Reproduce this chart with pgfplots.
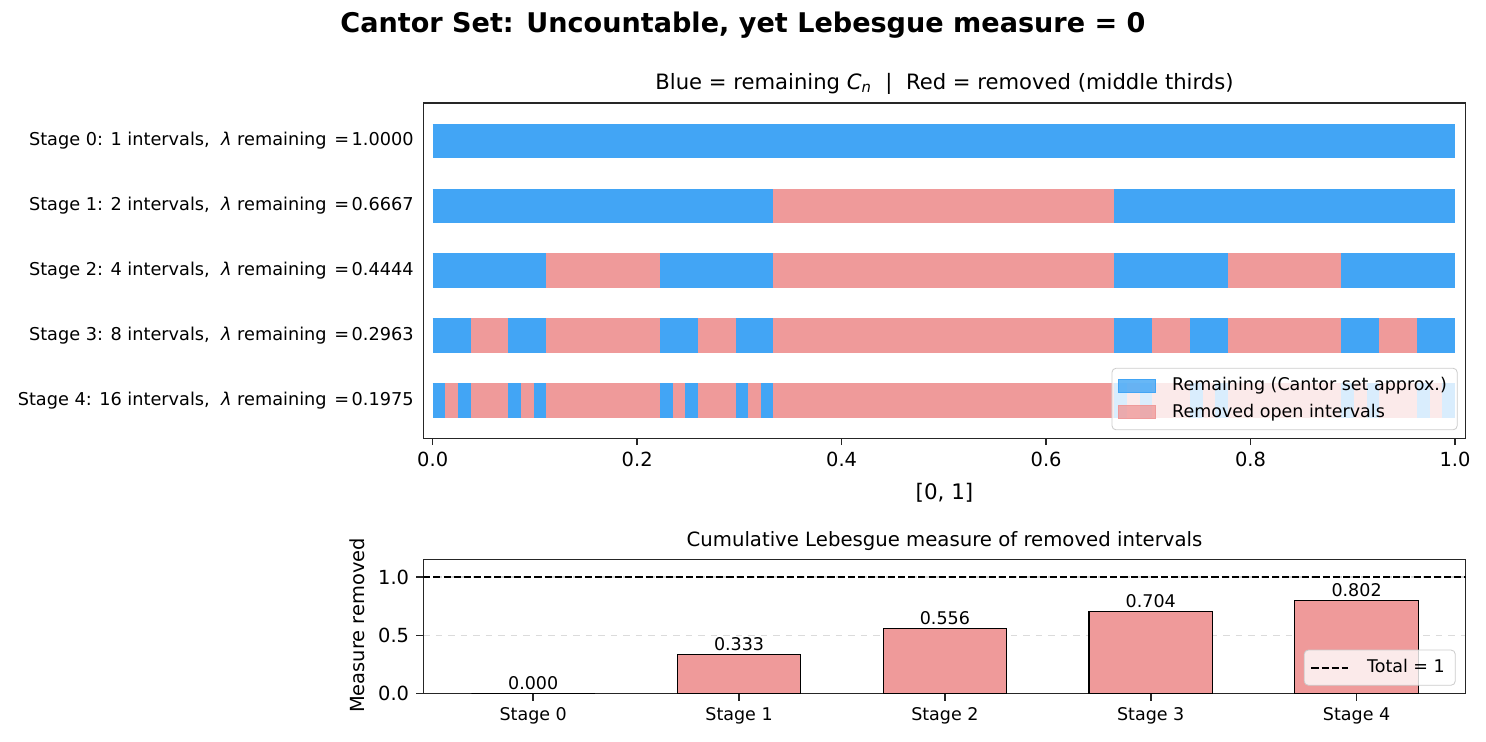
\documentclass[border=0pt]{standalone}
\usepackage{fontspec}
\setmainfont{DejaVu Sans}
\usepackage{pgfplots}
\pgfplotsset{compat=1.18}
\definecolor{keepblue}{HTML}{42A5F5}
\definecolor{cutred}{HTML}{EF9A9A}
\definecolor{spine}{HTML}{262626}

\tikzset{totalline/.style={black, line width=0.95pt, dash pattern=on 3.4pt off 1.45pt}}
\newcommand{\ticksize}{\fontsize{9.33}{11}\selectfont}
\newcommand{\smallsize}{\fontsize{8.4}{10}\selectfont}
\pgfplotsset{
  mplstyle/.style={
    scale only axis,
    axis line style={line width=0.75pt, spine},
    tick style={line width=0.75pt, spine},
    tick align=outside,
    major tick length=3.3pt,
    xtick pos=left, ytick pos=left,
    /pgf/number format/assume math mode=true,
  },
}

\begin{document}
\begin{tikzpicture}
\useasboundingbox (0,0) rectangle (713.28pt,356.16pt);

% ---------- construction of the Cantor set, stage by stage ----------
\begin{axis}[
  mplstyle,
  at={(203.18pt,145.78pt)}, anchor=south west,
  width=500.35pt, height=160.94pt,
  xmin=-0.0092, xmax=1.0104,
  ymin=-0.586, ymax=4.583, y dir=reverse,
  xtick={0,0.2,0.4,0.6,0.8,1},
  xticklabel style={font=\ticksize,
    /pgf/number format/.cd, fixed, fixed zerofill, precision=1},
  ytick={0,1,2,3,4},
  major y tick style={draw=none},
  yticklabels={
    {Stage 0: 1 intervals,\ \ {\itshape λ} remaining\hspace{1pt} =\hspace{1.2pt}1.0000},
    {Stage 1: 2 intervals,\ \ {\itshape λ} remaining\hspace{1pt} =\hspace{1.2pt}0.6667},
    {Stage 2: 4 intervals,\ \ {\itshape λ} remaining\hspace{1pt} =\hspace{1.2pt}0.4444},
    {Stage 3: 8 intervals,\ \ {\itshape λ} remaining\hspace{1pt} =\hspace{1.2pt}0.2963},
    {Stage 4: 16 intervals,\ \ {\itshape λ} remaining\hspace{1pt} =\hspace{1.2pt}0.1975}},
  yticklabel style={font=\fontsize{8.5}{10}\selectfont, xshift=2.2pt},
  unbounded coords=jump,
  legend cell align=left,
  legend style={
    at={(0.9923,0.024)}, anchor=south east,
    font=\smallsize,
    fill=white, fill opacity=0.8, text opacity=1,
    draw=black!20, rounded corners=2pt,
    inner xsep=3pt, inner ysep=2.5pt, row sep=0.8pt,
  },
]
\addlegendimage{legend image code/.code={\fill[keepblue, sharp corners] (0pt,-3.2pt) rectangle (17.5pt,3.2pt); \path (23.5pt,0pt);}}
\addlegendentry{Remaining (Cantor set approx.)}
\addlegendimage{legend image code/.code={\fill[cutred, sharp corners] (0pt,-3.2pt) rectangle (17.5pt,3.2pt); \path (23.5pt,0pt);}}
\addlegendentry{Removed open intervals}

% removed (open) middle thirds: x_start y / x_end y, one segment per interval
\addplot[forget plot, cutred, line width=16.65pt] table {
x y
0.333333 1
0.666667 1
nan nan
0.111111 2
0.222222 2
nan nan
0.333333 2
0.666667 2
nan nan
0.777778 2
0.888889 2
nan nan
0.037037 3
0.074074 3
nan nan
0.111111 3
0.222222 3
nan nan
0.259259 3
0.296296 3
nan nan
0.333333 3
0.666667 3
nan nan
0.703704 3
0.740741 3
nan nan
0.777778 3
0.888889 3
nan nan
0.925926 3
0.962963 3
nan nan
0.012346 4
0.024691 4
nan nan
0.037037 4
0.074074 4
nan nan
0.086420 4
0.098765 4
nan nan
0.111111 4
0.222222 4
nan nan
0.234568 4
0.246914 4
nan nan
0.259259 4
0.296296 4
nan nan
0.308642 4
0.320988 4
nan nan
0.333333 4
0.666667 4
nan nan
0.679012 4
0.691358 4
nan nan
0.703704 4
0.740741 4
nan nan
0.753086 4
0.765432 4
nan nan
0.777778 4
0.888889 4
nan nan
0.901235 4
0.913580 4
nan nan
0.925926 4
0.962963 4
nan nan
0.975309 4
0.987654 4
};

% remaining closed intervals C_n
\addplot[forget plot, keepblue, line width=16.65pt] table {
x y
0 0
1 0
nan nan
0 1
0.333333 1
nan nan
0.666667 1
1 1
nan nan
0 2
0.111111 2
nan nan
0.222222 2
0.333333 2
nan nan
0.666667 2
0.777778 2
nan nan
0.888889 2
1 2
nan nan
0 3
0.037037 3
nan nan
0.074074 3
0.111111 3
nan nan
0.222222 3
0.259259 3
nan nan
0.296296 3
0.333333 3
nan nan
0.666667 3
0.703704 3
nan nan
0.740741 3
0.777778 3
nan nan
0.888889 3
0.925926 3
nan nan
0.962963 3
1 3
nan nan
0 4
0.012346 4
nan nan
0.024691 4
0.037037 4
nan nan
0.074074 4
0.086420 4
nan nan
0.098765 4
0.111111 4
nan nan
0.222222 4
0.234568 4
nan nan
0.246914 4
0.259259 4
nan nan
0.296296 4
0.308642 4
nan nan
0.320988 4
0.333333 4
nan nan
0.666667 4
0.679012 4
nan nan
0.691358 4
0.703704 4
nan nan
0.740741 4
0.753086 4
nan nan
0.765432 4
0.777778 4
nan nan
0.888889 4
0.901235 4
nan nan
0.913580 4
0.925926 4
nan nan
0.962963 4
0.975309 4
nan nan
0.987654 4
1 4
};
\end{axis}

% ---------- cumulative measure removed ----------
\begin{axis}[
  mplstyle,
  at={(203.18pt,23.18pt)}, anchor=south west,
  width=500.35pt, height=64.51pt,
  xmin=-0.534, xmax=4.53,
  ymin=0, ymax=1.152,
  xtick={0,1,2,3,4},
  xticklabels={Stage 0,Stage 1,Stage 2,Stage 3,Stage 4},
  xticklabel style={font=\smallsize},
  ytick={0,0.5,1},
  yticklabel style={font=\ticksize,
    /pgf/number format/.cd, fixed, fixed zerofill, precision=1},
  ymajorgrids,
  grid style={dashed, black!14, line width=0.75pt},
  legend cell align=left,
  legend style={
    at={(0.9904,0.06)}, anchor=south east,
    font=\smallsize,
    fill=white, fill opacity=0.8, text opacity=1,
    draw=black!20, rounded corners=2pt,
    inner xsep=3pt, inner ysep=2.5pt,
  },
]
\addplot[forget plot, ybar, bar width=0.6, fill=cutred, draw=black, line width=0.55pt,
  nodes near coords,
  nodes near coords style={font=\smallsize, text=black, inner sep=1.5pt,
    /pgf/number format/.cd, fixed, fixed zerofill, precision=3}]
  coordinates {(0,0) (1,0.333333) (2,0.555556) (3,0.703704) (4,0.802469)};

\addlegendimage{legend image code/.code={\draw[totalline, sharp corners] (0pt,0pt) -- (17.5pt,0pt); \path (24.5pt,0pt);}}
\addlegendentry{Total = 1}
\addplot[forget plot, totalline] coordinates {(-0.534,1) (4.53,1)};
\end{axis}

% titles and axis labels
\node[font=\fontsize{13}{16}\selectfont\bfseries] at (356.64pt,344.16pt)
  {Cantor Set: Uncountable, yet Lebesgue measure = 0};
\node[font=\fontsize{10.15}{12}\selectfont] at (453.36pt,315.84pt)
  {Blue = remaining \textit{C}\textsubscript{\textit{n}}\ \ |\ \ Red = removed (middle thirds)};
\node[font=\fontsize{10.27}{12}\selectfont] at (453.36pt,119.52pt) {[0, 1]};
\node[font=\fontsize{9.45}{11}\selectfont] at (453.36pt,96.48pt)
  {Cumulative Lebesgue measure of removed intervals};
\node[font=\fontsize{9.33}{11}\selectfont, rotate=90] at (171.36pt,55.92pt) {Measure removed};
\end{tikzpicture}
\end{document}
